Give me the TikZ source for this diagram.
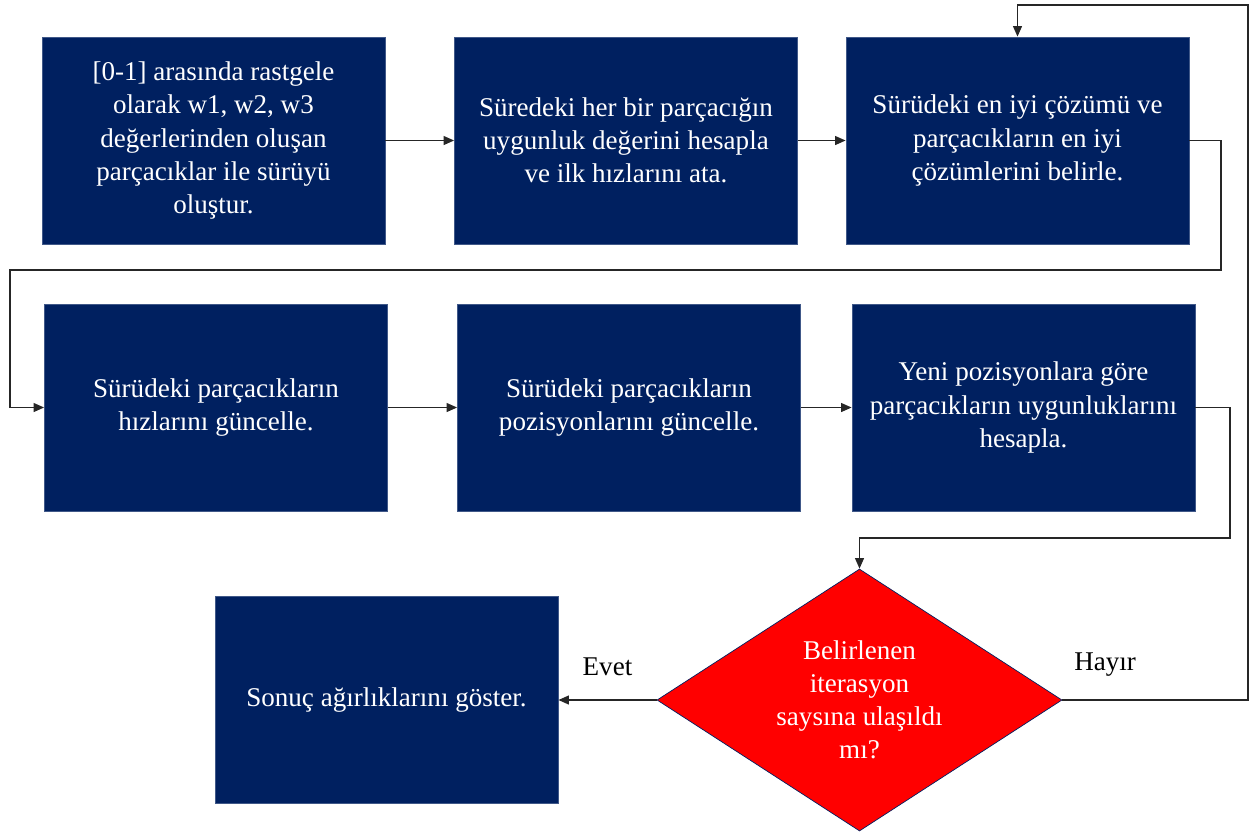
\documentclass[tikz,border=0pt]{standalone}
\usepackage{fontspec}
\setmainfont{Liberation Serif}
\newfontfamily\timesfont{Liberation Serif}
\usetikzlibrary{shapes.geometric,arrows.meta}
\definecolor{navy}{RGB}{0,32,96}
\begin{document}
\begin{tikzpicture}[font=\timesfont\fontsize{15.4}{18.8}\selectfont,
	box/.style={rectangle, fill=navy, draw=navy!75!white, line width=0.4pt, text=white, align=center, minimum width=6.86cm, minimum height=4.14cm, inner sep=0pt},
	decision/.style={diamond, aspect=1.55, fill=red, draw=navy, line width=0.4pt, text=white, align=center, minimum width=8.1cm, minimum height=5.24cm, inner sep=0pt},
	arr/.style={draw=black!85, line width=1pt, -{Triangle[length=6pt,width=5pt]}}]
			\useasboundingbox (0,0) rectangle (25.08,-16.7);
			\node[box] (init) at (4.27,-2.81) {[0-1] arasında rastgele\\olarak w1, w2, w3\\değerlerinden oluşan\\parçacıklar ile sürüyü\\oluştur.};
			\node[box] (eval) at (12.52,-2.81) {Süredeki her bir parçacığın\\uygunluk değerini hesapla\\ve ilk hızlarını ata.};
			\node[box] (best) at (20.35,-2.81) {Sürüdeki en iyi çözümü ve\\parçacıkların en iyi\\çözümlerini belirle.};
			\node[box] (vel) at (4.32,-8.15) {Sürüdeki parçacıkların\\hızlarını güncelle.};
			\node[box] (pos) at (12.58,-8.15) {Sürüdeki parçacıkların\\pozisyonlarını güncelle.};
			\node[box] (refit) at (20.47,-8.15) {Yeni pozisyonlara göre\\parçacıkların uygunluklarını\\hesapla.};
			\node[box] (result) at (7.73,-14.0) {Sonuç ağırlıklarını göster.};
			\node[decision] (stop) at (17.19,-14.0) {Belirlenen\\iterasyon\\saysına ulaşıldı\\mı?};
			
			\coordinate (gap1) at (0.2,-5.4);
			\coordinate (gap2) at (17.19,-10.76);
			\coordinate (top) at (20.35,-0.1);
			
			\foreach \from/\to in {init/eval,eval/best,vel/pos,pos/refit}
			\draw[arr] (\from) -- (\to);
			
			\draw[arr] (best.east) -- ++(0.64,0) |- (gap1) |- (vel.west);
			\draw[arr] (refit.east) -- ++(0.7,0) |- (gap2) -- (stop.north);
			\draw[arr] (stop.east) -- node[pos=0.23, yshift=0.7cm] {Hayır} ++(3.72,0) |- (top) -- (best.north);
			\draw[arr] (stop.west) -- node[midway, yshift=0.66cm] {Evet} (result.east);
			\end{tikzpicture}
\end{document}
